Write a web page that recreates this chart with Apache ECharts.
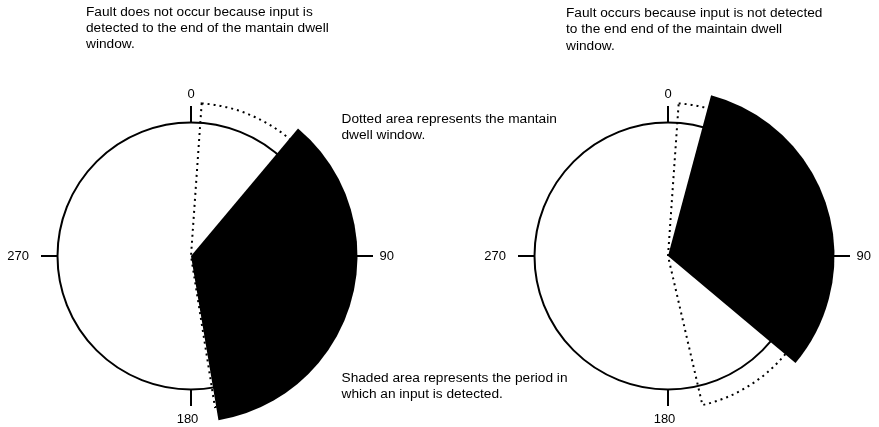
<!DOCTYPE html>
<html>
<head>
<meta charset="utf-8">
<script src="https://cdn.jsdelivr.net/npm/echarts@6/dist/echarts.min.js"></script>
<style>
html,body{margin:0;padding:0;background:#fff;}
#chart{width:879px;height:427px;}
</style>
</head>
<body>
<div id="chart"></div>
<script>
// ---- data (angles in degrees, clockwise from the top) ----
const tickAngles = [0, 90, 180, 270];
const tickLabels = ['0', '90', '180', '270'];
const extendedTickAngles = [90];
const dwellWindowLeft = [4, 171];
const inputDetectedLeft = [40, 170.5];
const dwellWindowRight = [4, 167];
const inputDetectedRight = [15, 130];
const captionLeft = ['Fault does not occur because input is', 'detected to the end of the mantain dwell', 'window.'];
const captionRight = ['Fault occurs because input is not detected', 'to the end end of the maintain dwell', 'window.'];
const noteDotted = ['Dotted area represents the mantain', 'dwell window.'];
const noteShaded = ['Shaded area represents the period in', 'which an input is detected.'];

// ---- styling constants ----
const FONT = '"Liberation Sans", Arial, Helvetica, sans-serif';
const R_CIRCLE_PX = 133.5;
const R_DOT = 153 / R_CIRCLE_PX;
const R_SHADE = 166.5 / R_CIRCLE_PX;
const R_LONGTICK = 182 / R_CIRCLE_PX;
const LABEL_PLACE = [
  { r: 161.5 / R_CIRCLE_PX, align: 'center', dx: 0 },
  { r: 188.5 / R_CIRCLE_PX, align: 'left', dx: 0 },
  { r: 163.5 / R_CIRCLE_PX, align: 'center', dx: -3.5 },
  { r: 162 / R_CIRCLE_PX, align: 'right', dx: 0 }
];

function sectorShape(api, a0, a1, r) {
  const c = api.coord([0, a0]);
  const p0 = api.coord([r, a0]);
  const p1 = api.coord([r, a1]);
  return {
    cx: c[0], cy: c[1], r0: 0,
    r: Math.hypot(p0[0] - c[0], p0[1] - c[1]),
    startAngle: Math.atan2(p0[1] - c[1], p0[0] - c[0]),
    endAngle: Math.atan2(p1[1] - c[1], p1[0] - c[0]),
    clockwise: true
  };
}

function panelSeries(polarIndex, windowRange, detectedRange) {
  return [
    {
      type: 'custom', coordinateSystem: 'polar', polarIndex: polarIndex, z: 1, silent: true,
      data: extendedTickAngles.map(a => [1, a]),
      renderItem: function (params, api) {
        const a = api.value(1);
        const p0 = api.coord([1, a]);
        const p1 = api.coord([R_LONGTICK, a]);
        return { type: 'line', shape: { x1: p0[0], y1: p0[1], x2: p1[0], y2: p1[1] },
          style: { stroke: '#000', lineWidth: 2 } };
      }
    },
    {
      type: 'custom', coordinateSystem: 'polar', polarIndex: polarIndex, z: 2, silent: true,
      data: [windowRange],
      renderItem: function (params, api) {
        return { type: 'sector', shape: sectorShape(api, api.value(0), api.value(1), R_DOT),
          style: { fill: 'none', stroke: '#000', lineWidth: 2, lineDash: [2, 4] } };
      }
    },
    {
      type: 'custom', coordinateSystem: 'polar', polarIndex: polarIndex, z: 3, silent: true,
      data: [detectedRange],
      renderItem: function (params, api) {
        return { type: 'sector', shape: sectorShape(api, api.value(0), api.value(1), R_SHADE),
          style: { fill: '#000', stroke: null } };
      }
    },
    {
      type: 'custom', coordinateSystem: 'polar', polarIndex: polarIndex, z: 4, silent: true,
      data: tickAngles.map(a => [1, a]),
      renderItem: function (params, api) {
        const i = params.dataIndex;
        const pl = LABEL_PLACE[i];
        const p = api.coord([pl.r, api.value(1)]);
        return { type: 'text',
          style: { x: p[0] + pl.dx, y: p[1], text: tickLabels[i], fill: '#000',
            fontSize: 13, fontFamily: FONT, align: pl.align, verticalAlign: 'middle' } };
      }
    }
  ];
}

function angleAxis(polarIndex) {
  return {
    polarIndex: polarIndex, type: 'value', min: 0, max: 360, interval: 90,
    startAngle: 90, clockwise: true,
    axisLine: { show: true, lineStyle: { color: '#000', width: 2 } },
    axisTick: { show: true, length: 16.5, lineStyle: { color: '#000', width: 2 } },
    axisLabel: { show: false },
    splitLine: { show: false }
  };
}

function textEl(lines, x, y, lh) {
  return { type: 'text', x: x, y: y, silent: true,
    style: { text: lines.join('\n'), fill: '#000', fontSize: 13.7, fontFamily: FONT,
      lineHeight: lh, verticalAlign: 'top', align: 'left' } };
}

const chart = echarts.init(document.getElementById('chart'), null, { renderer: 'canvas' });
chart.setOption({
  animation: false,
  backgroundColor: '#fff',
  polar: [
    { center: [191, 256], radius: R_CIRCLE_PX },
    { center: [668, 256], radius: R_CIRCLE_PX }
  ],
  angleAxis: [angleAxis(0), angleAxis(1)],
  radiusAxis: [
    { polarIndex: 0, type: 'value', min: 0, max: 1, show: false },
    { polarIndex: 1, type: 'value', min: 0, max: 1, show: false }
  ],
  graphic: [
    textEl(captionLeft, 86, 3.8, 16.3),
    textEl(captionRight, 566, 5, 16.3),
    textEl(noteDotted, 341.5, 111, 16),
    textEl(noteShaded, 341.5, 370.3, 16)
  ],
  series: [].concat(
    panelSeries(0, dwellWindowLeft, inputDetectedLeft),
    panelSeries(1, dwellWindowRight, inputDetectedRight)
  )
});
</script>
</body>
</html>
